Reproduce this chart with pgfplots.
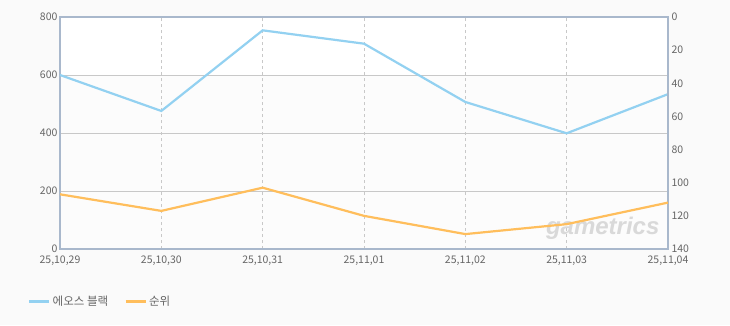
\documentclass[border=0pt]{standalone}
\usepackage{fontspec}
\setmainfont{Noto Sans CJK KR}
\usepackage{pgfplots}
\pgfplotsset{compat=1.18}
\definecolor{bgc}{HTML}{FAFAFA}
\definecolor{bandc}{HTML}{FCFCFC}
\definecolor{axc}{HTML}{A9B8CC}
\definecolor{gridc}{HTML}{C8C8C8}
\definecolor{tickc}{HTML}{666666}
\definecolor{blueL}{HTML}{93D1F1}
\definecolor{orangeL}{HTML}{FFBE5C}
\newfontfamily\wmfont{Liberation Sans}
\begin{document}
\begin{tikzpicture}
\fill[bgc] (0pt,0pt) rectangle (730pt,325pt);
\begin{axis}[
  at={(60pt,76pt)}, anchor=south west,
  scale only axis, width=608pt, height=232pt,
  xmin=0, xmax=6, ymin=0, ymax=800,
  xtick={0,1,2,3,4,5,6},
  xticklabels={{25,10,29},{25,10,30},{25,10,31},{25,11,01},{25,11,02},{25,11,03},{25,11,04}},
  ytick={0,200,400,600,800},
  /pgf/number format/assume math mode=true,
  tick label style={font=\fontsize{10.5}{12}\selectfont, text=tickc},
  xticklabel style={yshift=-3pt},
  yticklabel style={xshift=1pt},
  major tick length=0pt,
  axis line style={draw=axc, line width=1.6pt},
  axis background/.style={fill=bandc, path picture={\fill[white] (path picture bounding box.north west) rectangle ([yshift=-58pt]path picture bounding box.north east);}},
  grid=major,
  x grid style={gridc, line width=0.6pt, dash pattern=on 3pt off 3pt},
  y grid style={gridc, line width=0.8pt},
  clip=false,
]
\addplot[blueL, line width=2.2pt] coordinates {
 (0,600) (1,476) (2,754) (3,708) (4,507) (5,399) (6,534)};
\node[font=\wmfont\bfseries\itshape\fontsize{24}{24}\selectfont, text=black!15, anchor=east] at (axis cs:5.95,70) {gametrics};
\end{axis}
\begin{axis}[
  at={(60pt,76pt)}, anchor=south west,
  scale only axis, width=608pt, height=232pt,
  xmin=0, xmax=6, ymin=0, ymax=140, y dir=reverse,
  hide x axis,
  axis y line*=right,
  ytick={0,20,...,140},
  /pgf/number format/assume math mode=true,
  tick label style={font=\fontsize{10.5}{12}\selectfont, text=tickc},
  yticklabel style={xshift=0pt},
  major tick length=0pt,
  axis line style={draw=axc, line width=1.6pt},
  legend style={at={(-0.058,-0.225)}, anchor=west, draw=none, fill=none,
    font=\fontsize{11.5}{13}\selectfont, text=tickc, legend columns=2,
    /tikz/every even column/.append style={column sep=14pt}},
  legend image code/.code={\draw[#1, line width=2.8pt] (0pt,0pt) -- (20pt,0pt);},
  clip=false,
]
\addlegendimage{blueL}
\addlegendentry{에오스 블랙}
\addplot[orangeL, line width=2.2pt] coordinates {
 (0,107) (1,117) (2,103) (3,120) (4,131) (5,125) (6,112)};
\addlegendentry{순위}
\end{axis}
\end{tikzpicture}
\end{document}
